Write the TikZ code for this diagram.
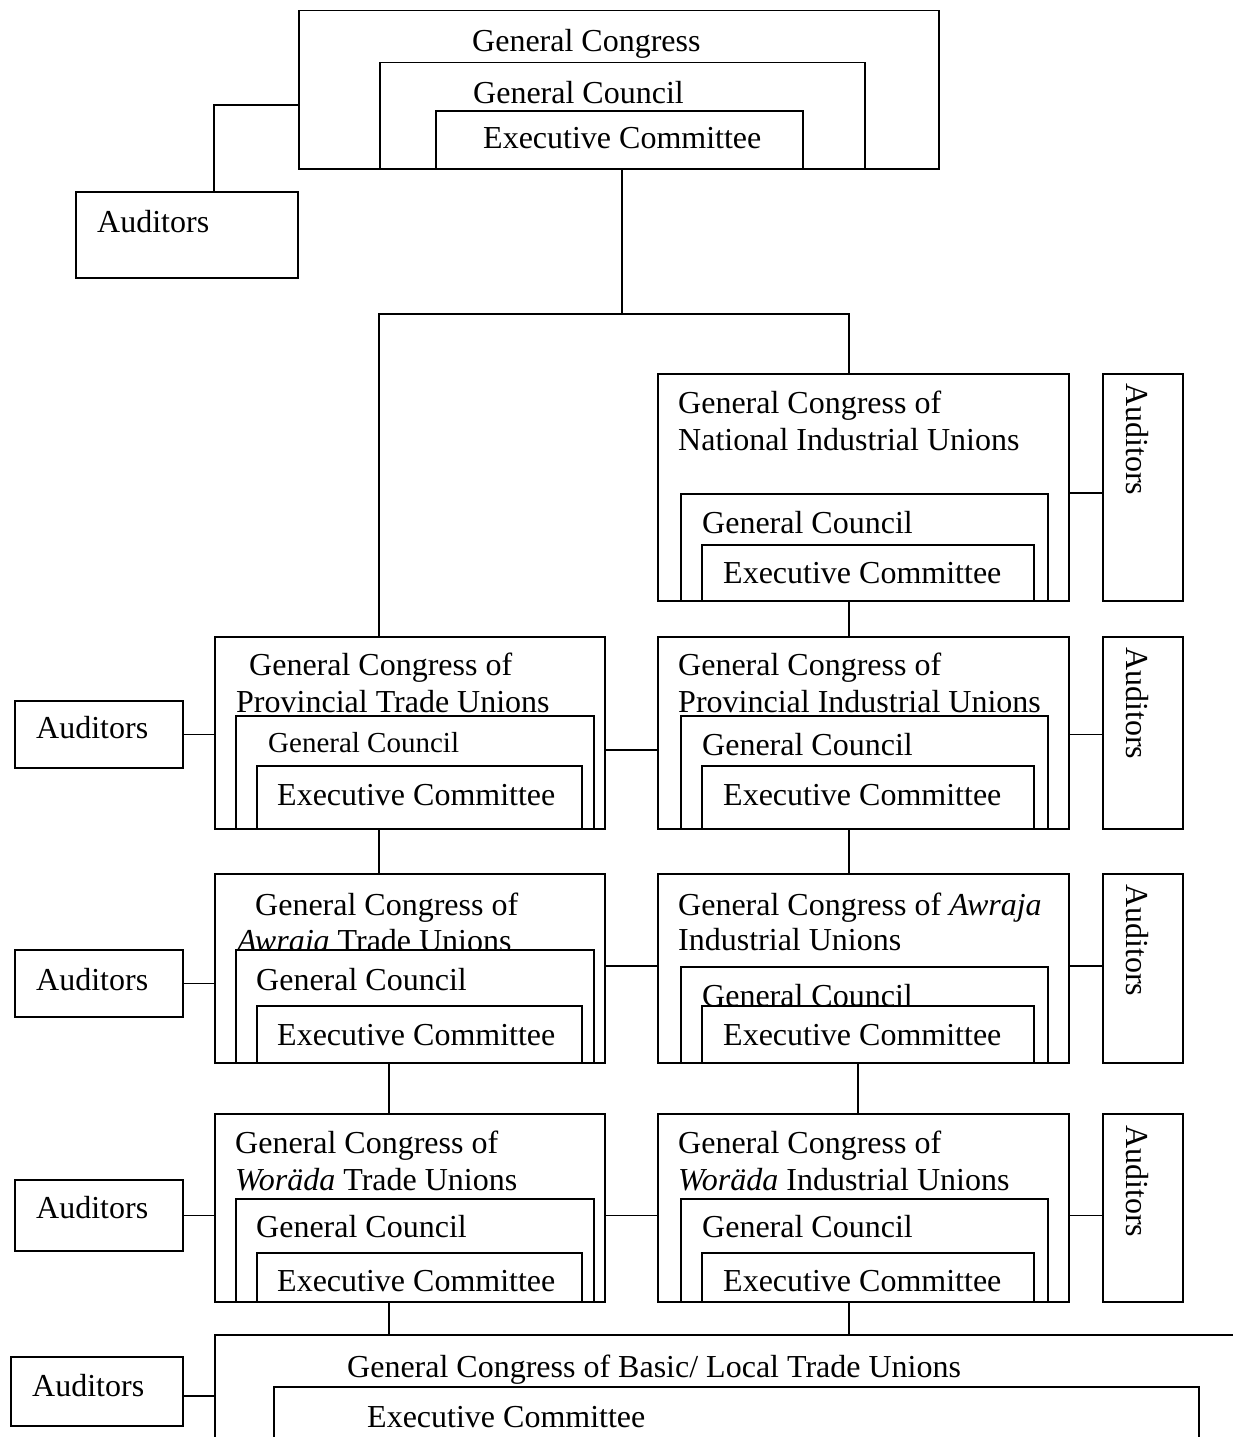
\documentclass[tikz,border=0pt]{standalone}
\usepackage{fontspec}
\setmainfont{Liberation Serif}
\tikzset{
  box/.style={draw, fill=white, line width=1.5pt, inner sep=0pt, anchor=north west},
  lbl/.style={inner sep=0pt, anchor=base west, font=\fontsize{32}{38}\selectfont},
  lblsm/.style={lbl, font=\fontsize{29}{35}\selectfont},
  vlbl/.style={lbl, rotate=-90},
  link/.style={line width=1.5pt}
}
% a rectangle given by its top-left corner, width and height
\newcommand{\orgbox}[5]{\node[box, minimum width=#4, minimum height=#5] (#1) at (#2,#3) {};}
\begin{document}
\begin{tikzpicture}[x=1pt, y=-1pt]
\clip (0,0) rectangle (1233,1437);
\fill[white] (0,0) rectangle (1233,1437);

% ---- national level
\orgbox{congress}{298}{10}{640}{158}
\node[lbl] (tcongress) at (472,52) {General Congress};
\orgbox{council}{379}{62}{485}{106}
\node[lbl] (tcouncil) at (473,103) {General Council};
\orgbox{exec}{435}{110}{367}{58}
\node[lbl] (texec) at (483,148) {Executive Committee};
\orgbox{audtop}{75}{191}{222}{86}
\node[lbl] (taudtop) at (97,232) {Auditors};

% ---- national industrial unions
\orgbox{natind}{657}{373}{411}{227}
\node[lbl] (tnat1) at (678,413) {General Congress of};
\node[lbl] (tnat2) at (678,450) {National Industrial Unions};
\orgbox{natcouncil}{680}{493}{367}{107}
\node[lbl] (tnatc) at (702,533) {General Council};
\orgbox{natexec}{701}{544}{332}{56}
\node[lbl] (tnate) at (723,583) {Executive Committee};
\orgbox{audnat}{1102}{373}{80}{227}
\node[vlbl] (taudnat) at (1126,383) {Auditors};

% ---- provincial level
\orgbox{provtrade}{214}{636}{390}{192}
\node[lbl] (tpt1) at (249,675) {General Congress of};
\node[lbl] (tpt2) at (236,712) {Provincial Trade Unions};
\orgbox{ptcouncil}{235}{715}{358}{113}
\node[lblsm] (tptc) at (268,752) {General Council};
\orgbox{ptexec}{256}{765}{325}{63}
\node[lbl] (tpte) at (277,805) {Executive Committee};
\orgbox{audpt}{14}{700}{168}{67}
\node[lbl] (taudpt) at (36,738) {Auditors};

\orgbox{provind}{657}{636}{411}{192}
\node[lbl] (tpi1) at (678,675) {General Congress of};
\node[lbl] (tpi2) at (678,712) {Provincial Industrial Unions};
\orgbox{picouncil}{680}{715}{367}{113}
\node[lbl] (tpic) at (702,755) {General Council};
\orgbox{piexec}{701}{765}{332}{63}
\node[lbl] (tpie) at (723,805) {Executive Committee};
\orgbox{audpi}{1102}{636}{80}{192}
\node[vlbl] (taudpi) at (1126,647) {Auditors};

% ---- awraja level
\orgbox{awtrade}{214}{873}{390}{189}
\node[lbl] (tat1) at (255,915) {General Congress of};
\node[lbl] (tat2) at (237,951) {\textit{Awraja} Trade Unions};
\orgbox{atcouncil}{235}{949}{358}{113}
\node[lbl] (tatc) at (256,990) {General Council};
\orgbox{atexec}{256}{1005}{325}{57}
\node[lbl] (tate) at (277,1045) {Executive Committee};
\orgbox{audat}{14}{949}{168}{67}
\node[lbl] (taudat) at (36,990) {Auditors};

\orgbox{awind}{657}{873}{411}{189}
\node[lbl] (tai1) at (678,915) {General Congress of \textit{Awraja}};
\node[lbl] (tai2) at (678,950) {Industrial Unions};
\orgbox{aicouncil}{680}{966}{367}{96}
\node[lbl] (taic) at (702,1006) {General Council};
\orgbox{aiexec}{701}{1005}{332}{57}
\node[lbl] (taie) at (723,1045) {Executive Committee};
\orgbox{audai}{1102}{873}{80}{189}
\node[vlbl] (taudai) at (1126,884) {Auditors};

% ---- woräda level
\orgbox{wotrade}{214}{1113}{390}{188}
\node[lbl] (twt1) at (235,1153) {General Congress of};
\node[lbl] (twt2) at (235,1190) {\textit{Woräda} Trade Unions};
\orgbox{wtcouncil}{235}{1198}{358}{103}
\node[lbl] (twtc) at (256,1237) {General Council};
\orgbox{wtexec}{256}{1252}{325}{49}
\begin{scope}
  \clip (256,1252) rectangle (581,1292);
  \node[lbl] (twte) at (277,1291) {Executive Committee};
\end{scope}
\orgbox{audwt}{14}{1179}{168}{71}
\node[lbl] (taudwt) at (36,1218) {Auditors};

\orgbox{woind}{657}{1113}{411}{188}
\node[lbl] (twi1) at (678,1153) {General Congress of};
\node[lbl] (twi2) at (678,1190) {\textit{Woräda} Industrial Unions};
\orgbox{wicouncil}{680}{1198}{367}{103}
\node[lbl] (twic) at (702,1237) {General Council};
\orgbox{wiexec}{701}{1252}{332}{49}
\begin{scope}
  \clip (701,1252) rectangle (1033,1292);
  \node[lbl] (twie) at (723,1291) {Executive Committee};
\end{scope}
\orgbox{audwi}{1102}{1113}{80}{188}
\node[vlbl] (taudwi) at (1126,1125) {Auditors};

% ---- basic / local level
\orgbox{basic}{214}{1334}{1100}{200}
\node[lbl] (tbasic) at (347,1377) {General Congress of Basic/ Local Trade Unions};
\orgbox{basicexec}{273}{1386}{925}{100}
\node[lbl] (tbexec) at (367,1427) {Executive Committee};
\orgbox{audbasic}{10}{1356}{172}{69}
\node[lbl] (taudb) at (32,1396) {Auditors};

% ---- junction points
\coordinate (c1) at (214,105);
\coordinate (j0) at (622,314);
\coordinate (jl) at (379,314);
\coordinate (jr) at (849,314);
\coordinate (hp) at (630,750);
\coordinate (ha) at (630,966);
\coordinate (vl) at (389,0);
\coordinate (vr) at (858,0);
\coordinate (hb) at (200,1396);

% ---- connectors
\draw[link] (congress.west |- c1) -- (c1) -- (audtop.north -| c1);
\draw[link] (congress.south -| j0) -- (j0);
\draw[link] (provtrade.north -| jl) -- (jl) -- (jr) -- (natind.north -| jr);
\draw[link] (natind.east |- natcouncil.north) -- (audnat.west |- natcouncil.north);
\draw[link] (natind.south -| jr) -- (provind.north -| jr);

\draw[link] (audpt.east) -- (provtrade.west |- audpt.east);
\draw[link] (provtrade.east |- hp) -- (provind.west |- hp);
\draw[link] (provind.east |- audpt.east) -- (audpi.west |- audpt.east);
\draw[link] (provtrade.south -| jl) -- (awtrade.north -| jl);
\draw[link] (provind.south -| jr) -- (awind.north -| jr);

\draw[link] (audat.east) -- (awtrade.west |- audat.east);
\draw[link] (awtrade.east |- ha) -- (awind.west |- ha);
\draw[link] (awind.east |- ha) -- (audai.west |- ha);
\draw[link] (awtrade.south -| vl) -- (wotrade.north -| vl);
\draw[link] (awind.south -| vr) -- (woind.north -| vr);

\draw[link] (audwt.east) -- (wotrade.west |- audwt.east);
\draw[link] (wotrade.east |- audwt.east) -- (woind.west |- audwt.east);
\draw[link] (woind.east |- audwt.east) -- (audwi.west |- audwt.east);
\draw[link] (wotrade.south -| vl) -- (basic.north -| vl);
\draw[link] (woind.south -| jr) -- (basic.north -| jr);
\draw[link] (audbasic.east |- hb) -- (basic.west |- hb);
\end{tikzpicture}
\end{document}
